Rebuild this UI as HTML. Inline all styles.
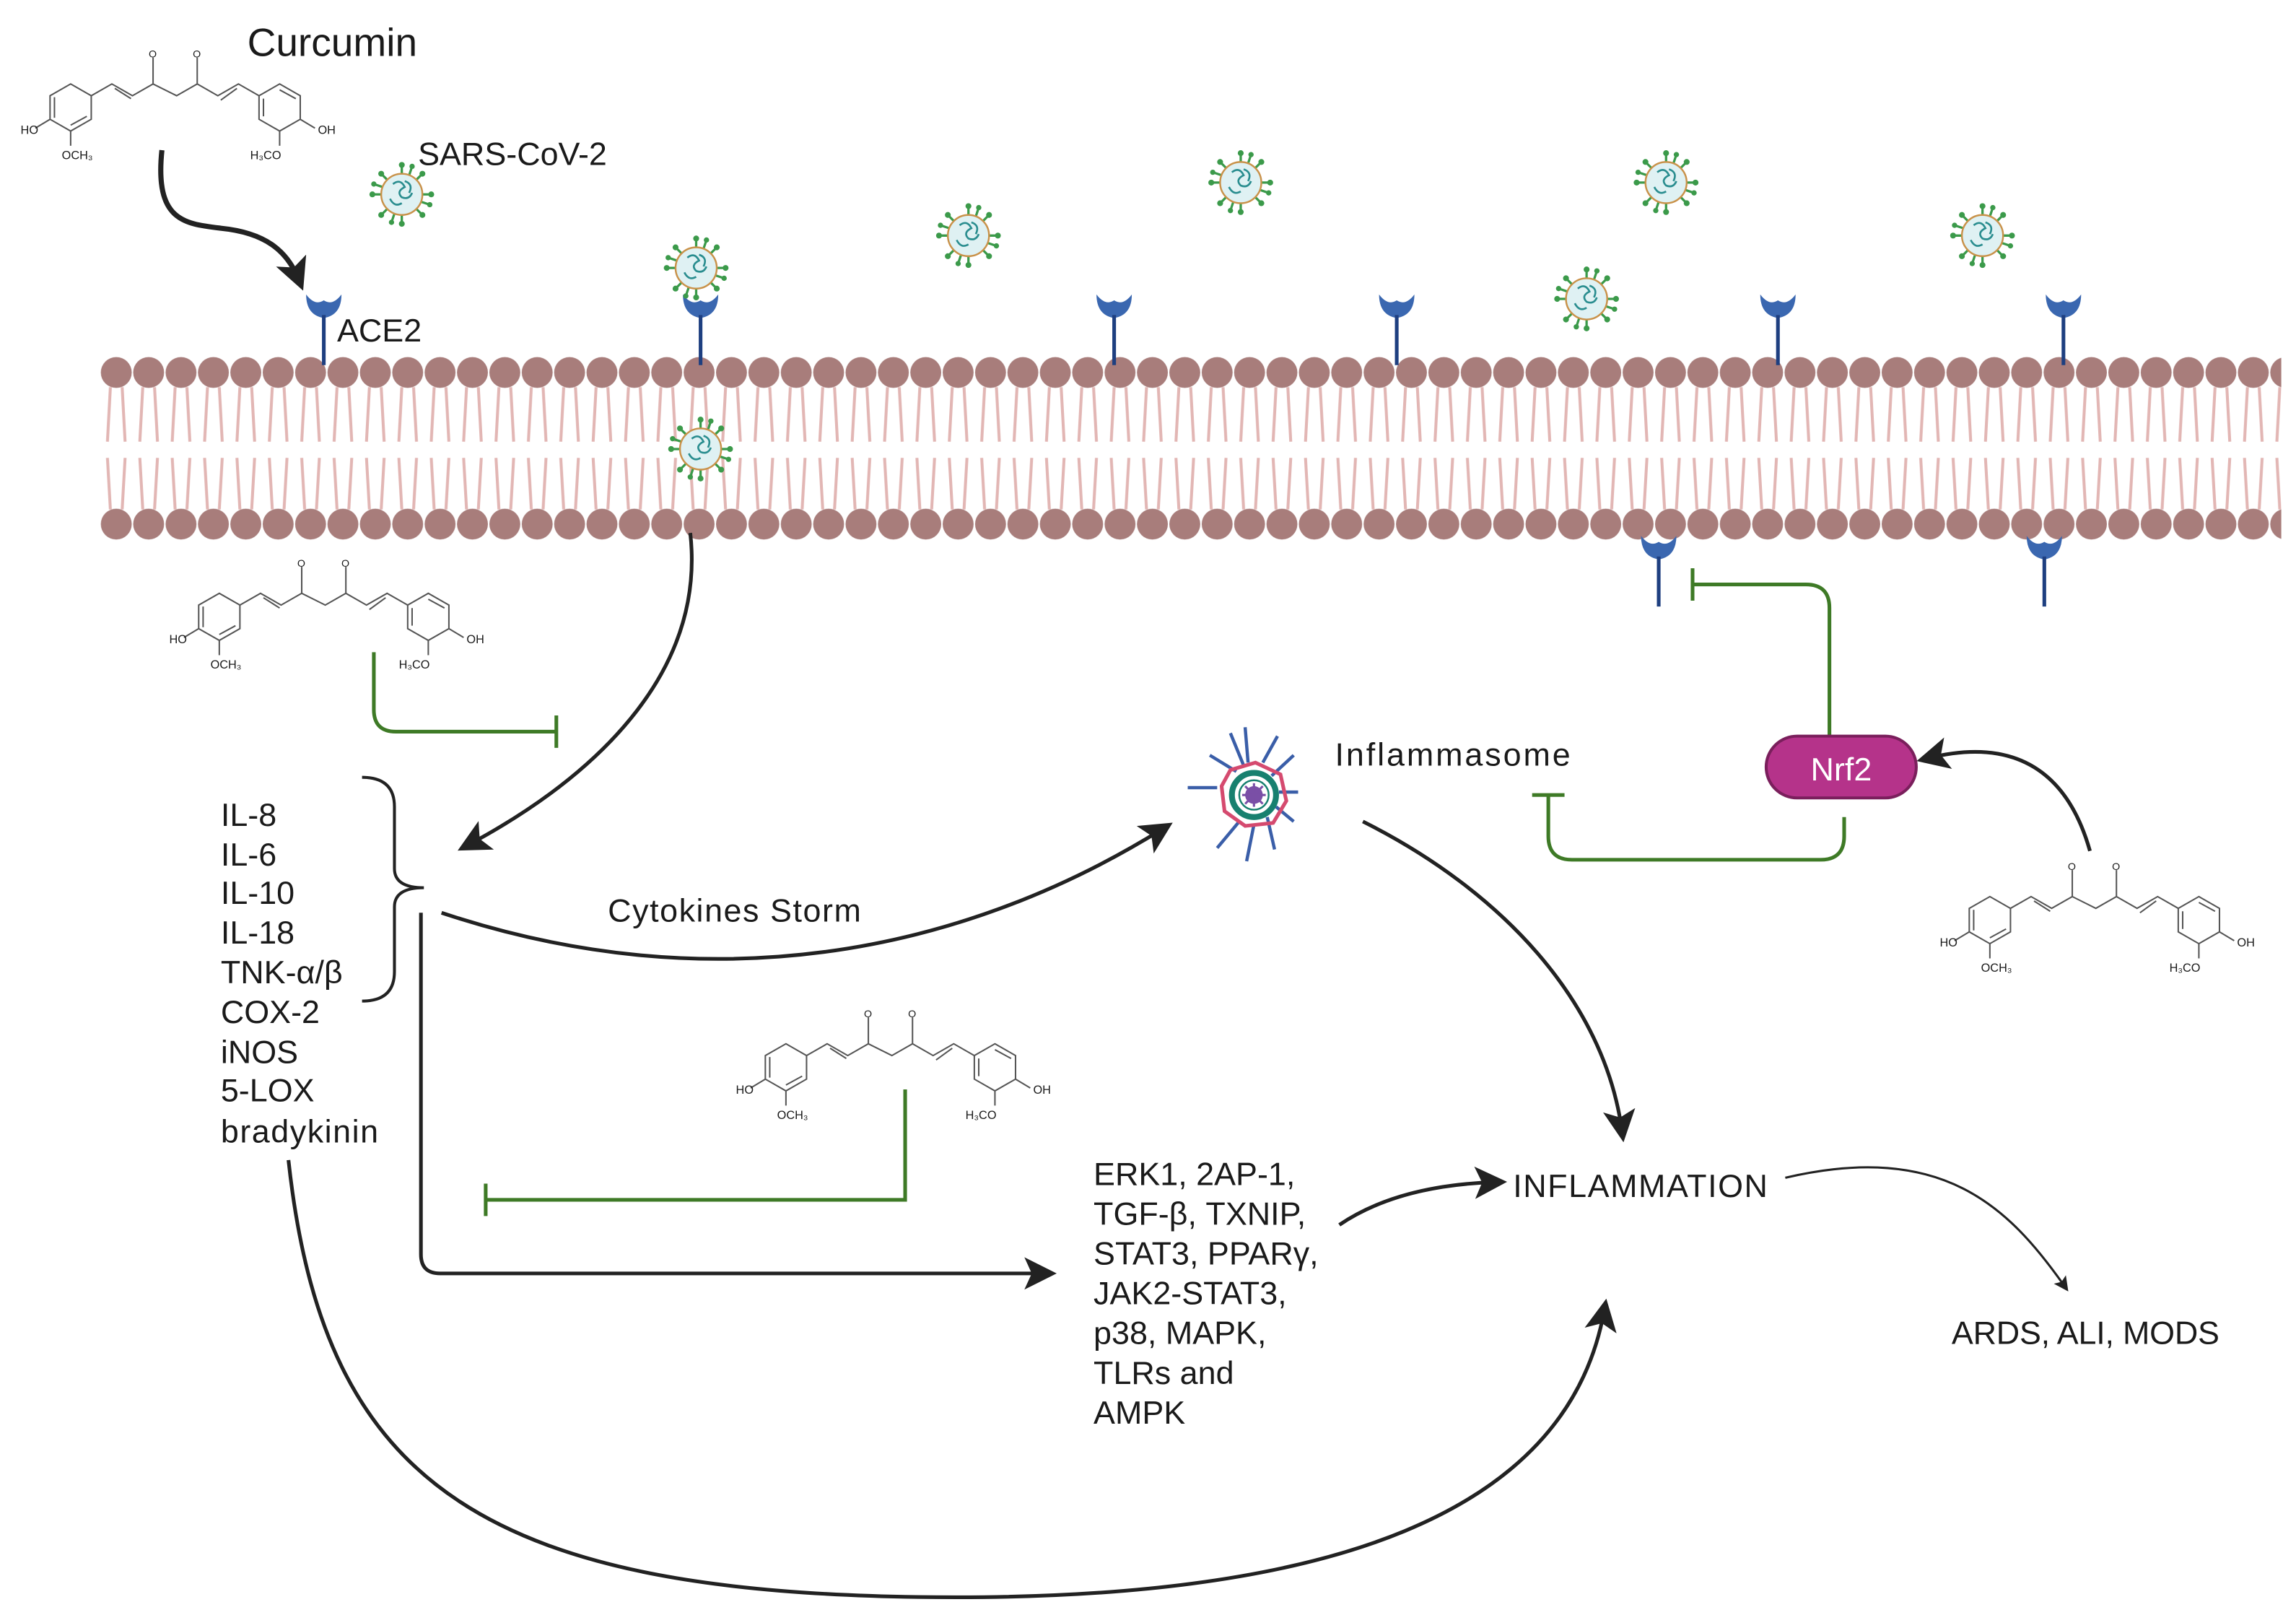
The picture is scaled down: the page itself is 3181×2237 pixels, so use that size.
<!DOCTYPE html>
<html><head><meta charset="utf-8"><style>
html,body{margin:0;padding:0;background:#fff}
svg{display:block}
text{font-family:"Liberation Sans",sans-serif;fill:#1a1a1a}
</style></head><body>
<svg width="3181" height="2237" viewBox="0 0 1560 1097" xmlns="http://www.w3.org/2000/svg">
<defs>
<marker id="ah" markerWidth="10" markerHeight="10" refX="6" refY="5" orient="auto" markerUnits="userSpaceOnUse" viewBox="0 0 10 10">
<path d="M0,0 L10,5 L0,10 L2,5 Z" fill="#222"/></marker>
<marker id="ahb" markerWidth="22" markerHeight="22" refX="14" refY="11" orient="auto" markerUnits="userSpaceOnUse" viewBox="0 0 22 22">
<path d="M0,0 L22,11 L0,22 L5,11 Z" fill="#222"/></marker>
<pattern id="heads" x="68" y="0" width="22" height="400" patternUnits="userSpaceOnUse">
<path d="M7,263 L5,300 M15,263 L17,300 M5,311 L7,346 M17,311 L15,346" stroke="#e2b6b4" stroke-width="2" fill="none"/>
<circle cx="11" cy="253" r="10.5" fill="#a87d7b"/>
<circle cx="11" cy="356" r="10.5" fill="#a87d7b"/>
</pattern>
<g id="mol" stroke="#555" stroke-width="1" fill="none">
<polygon points="34,22 48,30 48,46 34,54 20,46 20,30"/>
<path d="M23,31 L23,45 M34,50 L45,44"/>
<path d="M48,30 L62,22 L76,30 L90,22 L90,4 M90,22 L106,30 L120,22 L120,4 M120,22 L134,30 L148,22 L162,30"/>
<path d="M64,25 L75,32 M136,33 L147,25"/>
<polygon points="176,22 190,30 190,46 176,54 162,46 162,30"/>
<path d="M165,32 L165,44 M176,26 L187,32"/>
<path d="M20,46 L10,52 M34,54 L34,64 M190,46 L200,52 M176,54 L176,64"/>
<text x="0" y="56" font-size="8" stroke="none" fill="#333">HO</text>
<text x="28" y="73" font-size="8" stroke="none" fill="#333">OCH₃</text>
<text x="202" y="56" font-size="8" stroke="none" fill="#333">OH</text>
<text x="156" y="73" font-size="8" stroke="none" fill="#333">H₃CO</text>
<text x="87" y="4" font-size="7" stroke="none" fill="#333">O</text>
<text x="117" y="4" font-size="7" stroke="none" fill="#333">O</text>
</g>
<g id="vir">
<g stroke="#3b9a4a" stroke-width="1.6">
<path d="M0,-14 L0,-20 M0,14 L0,20 M-14,0 L-20,0 M14,0 L20,0 M10,10 L14,14 M-10,-10 L-14,-14 M10,-10 L14,-14 M-10,10 L-14,14 M5,-13 L7,-19 M-5,13 L-7,19 M13,5 L19,7 M-13,-5 L-19,-7"/>
</g>
<g fill="#3b9a4a"><circle cx="0" cy="-20" r="2"/><circle cx="0" cy="20" r="2"/><circle cx="-20" cy="0" r="2"/><circle cx="20" cy="0" r="2"/><circle cx="14" cy="14" r="2"/><circle cx="-14" cy="-14" r="2"/><circle cx="14" cy="-14" r="2"/><circle cx="-14" cy="14" r="2"/><circle cx="7" cy="-19" r="1.8"/><circle cx="-7" cy="19" r="1.8"/><circle cx="19" cy="7" r="1.8"/><circle cx="-19" cy="-7" r="1.8"/></g>
<circle r="14" fill="#dff1f3" stroke="#c9924a" stroke-width="1.2"/>
<path d="M-6,-7 q5,-4 8,2 q-6,3 -2,7 q5,2 7,-3 M-8,3 q3,6 8,3 M2,-9 q6,2 3,8" stroke="#2a8d8f" stroke-width="1.3" fill="none"/>
</g>
<g id="rec"><path d="M-12,-2 Q-12,12 0,14 Q12,12 12,-2 Q6,6 0,2 Q-6,6 -12,-2 Z" fill="#3a67b0"/><line x1="0" y1="12" x2="0" y2="46" stroke="#1e3f80" stroke-width="2.5"/></g>
</defs>

<rect x="68" y="240" width="1482" height="130" fill="url(#heads)"/>

<use href="#rec" x="220" y="202"/>
<use href="#rec" x="476" y="202"/>
<use href="#rec" x="757" y="202"/>
<use href="#rec" x="949" y="202"/>
<use href="#rec" x="1208" y="202"/>
<use href="#rec" x="1402" y="202"/>
<use href="#rec" x="1127" y="366"/>
<use href="#rec" x="1389" y="366"/>

<use href="#vir" x="273" y="132"/>
<use href="#vir" x="473" y="182"/>
<use href="#vir" x="658" y="160"/>
<use href="#vir" x="843" y="124"/>
<use href="#vir" x="1132" y="124"/>
<use href="#vir" x="1078" y="203"/>
<use href="#vir" x="1347" y="160"/>
<use href="#vir" x="476" y="305"/>

<use href="#mol" x="14" y="35"/>
<use href="#mol" x="115" y="381"/>
<use href="#mol" x="500" y="687"/>
<use href="#mol" x="1318" y="587"/>

<text x="168" y="38" font-size="27">Curcumin</text>
<text x="284" y="112" font-size="22">SARS-CoV-2</text>
<text x="229" y="232" font-size="22">ACE2</text>

<g fill="none" stroke="#222">
<path d="M110,102 C105,150 125,152 150,155 C180,158 195,170 203,190" stroke-width="3.5" marker-end="url(#ahb)"/>
<path d="M469,362 C480,460 400,530 318,574" stroke-width="2.5" marker-end="url(#ahb)"/>
<path d="M300,620 C480,680 650,650 790,563" stroke-width="2.5" marker-end="url(#ahb)"/>
<path d="M926,558 C1020,605 1090,680 1102,768" stroke-width="2.5" marker-end="url(#ahb)"/>
<path d="M1420,578 C1405,525 1370,500 1310,515" stroke-width="2.5" marker-end="url(#ahb)"/>
<path d="M286,620 L286,852 Q286,865 299,865 L710,865" stroke-width="2.5" marker-end="url(#ahb)"/>
<path d="M910,832 Q950,805 1016,803" stroke-width="2.5" marker-end="url(#ahb)"/>
<path d="M1213,800 C1320,775 1365,820 1403,874" stroke-width="1.5" marker-end="url(#ah)"/>
<path d="M196,788 C220,1010 330,1085 650,1085 C900,1085 1065,1030 1090,890" stroke-width="2.5" marker-end="url(#ahb)"/>
<path d="M246,528 Q268,528 268,548 L268,590 Q268,603 288,603 Q268,603 268,616 L268,660 Q268,680 246,680" stroke-width="2"/>
</g>

<g fill="none" stroke="#3e7a26" stroke-width="2.5">
<path d="M254,443 L254,482 Q254,497 269,497 L378,497 M378,486 L378,508"/>
<path d="M615,740 L615,815 L330,815 M330,804 L330,826"/>
<path d="M1253,555 L1253,568 Q1253,584 1237,584 L1068,584 Q1052,584 1052,568 L1052,540 M1041,540 L1063,540"/>
<path d="M1243,500 L1243,413 Q1243,397 1227,397 L1150,397 M1150,386 L1150,408"/>
</g>

<rect x="1200" y="500" width="102" height="42" rx="21" fill="#b5338a" stroke="#7a1f5c" stroke-width="2"/>
<text x="1251" y="530" font-size="22" text-anchor="middle" style="fill:#fff">Nrf2</text>

<g transform="translate(852,540)">
<g stroke="#3a5ea8" stroke-width="2.2">
<path d="M-45,-5 L-25,-5 M-30,-27 L-12,-16 M-16,-42 L-7,-20 M-6,-46 L-4,-22 M16,-40 L6,-22 M27,-27 L12,-13 M30,-2 L17,-2 M27,18 L15,8 M14,37 L9,15 M-5,45 L0,20 M-25,36 L-10,18"/>
</g>
<polygon points="-16,-17 1,-22 18,-14 22,4 13,19 -6,21 -20,11 -22,-6" fill="none" stroke="#d54a6f" stroke-width="2.5"/>
<circle r="15" fill="none" stroke="#18806f" stroke-width="4"/>
<circle r="10" fill="#fff" stroke="#18806f" stroke-width="1.2"/>
<circle r="6" fill="#7a4fa6"/>
<path d="M-8,0 L8,0 M0,-8 L0,8 M-6,-6 L6,6 M6,-6 L-6,6" stroke="#7a4fa6" stroke-width="1.5"/>
</g>
<text x="907" y="520" font-size="22" textLength="160">Inflammasome</text>

<g font-size="22">
<text x="150" y="561">IL-8</text>
<text x="150" y="588">IL-6</text>
<text x="150" y="614">IL-10</text>
<text x="150" y="641">IL-18</text>
<text x="150" y="668">TNK-α/β</text>
<text x="150" y="695">COX-2</text>
<text x="150" y="722">iNOS</text>
<text x="150" y="748">5-LOX</text>
<text x="150" y="776" textLength="107">bradykinin</text>
</g>
<text x="413" y="626" font-size="22" textLength="172">Cytokines Storm</text>

<g font-size="22">
<text x="743" y="805">ERK1, 2AP-1,</text>
<text x="743" y="832">TGF-β, TXNIP,</text>
<text x="743" y="859">STAT3, PPARγ,</text>
<text x="743" y="886">JAK2-STAT3,</text>
<text x="743" y="913">p38, MAPK,</text>
<text x="743" y="940">TLRs and</text>
<text x="743" y="967">AMPK</text>
</g>
<text x="1028" y="813" font-size="22" textLength="173">INFLAMMATION</text>
<text x="1326" y="913" font-size="22" textLength="182">ARDS, ALI, MODS</text>
</svg>
</body></html>
